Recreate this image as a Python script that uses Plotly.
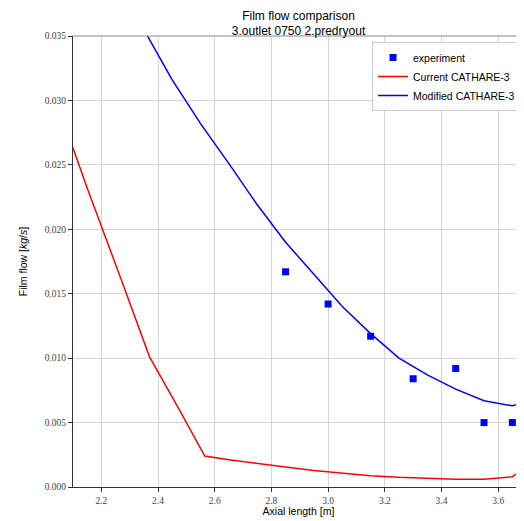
import plotly.graph_objects as go

# Experiment
exp_x = [2.85, 3.00, 3.15, 3.30, 3.45, 3.55, 3.65]
exp_y = [0.0167, 0.0142, 0.0117, 0.0084, 0.0092, 0.0050, 0.0050]

# Current CATHARE-3
cur_x = [2.05, 2.15, 2.27, 2.37, 2.47, 2.565, 2.65, 2.75, 2.85, 2.95, 3.05, 3.15, 3.25, 3.35, 3.45, 3.55, 3.65, 3.75]
cur_y = [0.0294, 0.0232, 0.0161, 0.0101, 0.0062, 0.0024, 0.00212, 0.00182, 0.00155, 0.00128,
         0.00106, 0.00088, 0.00075, 0.00066, 0.00061, 0.00060, 0.00080, 0.0024]

# Modified CATHARE-3
mod_x = [2.25, 2.35, 2.45, 2.55, 2.65, 2.75, 2.85, 2.95, 3.05, 3.15, 3.25, 3.35, 3.45, 3.55, 3.65, 3.75]
mod_y = [0.0400, 0.0355, 0.0316, 0.0282, 0.0251, 0.0219, 0.0190, 0.0165, 0.0140, 0.0119,
         0.0100, 0.0087, 0.0076, 0.0067, 0.0063, 0.0069]

x_range = [2.1, 3.691]
y_range = [0.0, 0.035]

fig = go.Figure()
fig.add_trace(go.Scatter(x=exp_x, y=exp_y, mode="markers", name="experiment",
                         marker=dict(symbol="square", size=7, color="#0000ff")))
fig.add_trace(go.Scatter(x=cur_x, y=cur_y, mode="lines", name="Current CATHARE-3",
                         line=dict(color="#ff0000", width=1.5)))
fig.add_trace(go.Scatter(x=mod_x, y=mod_y, mode="lines", name="Modified CATHARE-3",
                         line=dict(color="#0000ff", width=1.5)))

serif = "Liberation Serif"
sans = "Liberation Sans"

# page body has an 8px margin; compensate so the plot area sits where the reference has it
fig.update_layout(
    width=516, height=513, autosize=False,
    margin=dict(l=65, r=0, t=28, b=34),
    paper_bgcolor="white", plot_bgcolor="white",
    title=dict(text="Film flow comparison<br>3.outlet 0750 2.predryout",
               x=0.5, xref="paper", xanchor="center",
               y=0.977, yref="container", yanchor="top",
               font=dict(family=sans, size=12, color="#000")),
    showlegend=True,
    legend=dict(x=0.9934, xanchor="right", y=0.9867, yanchor="top",
                bgcolor="rgba(255,255,255,0.9)", bordercolor="#cccccc", borderwidth=1,
                font=dict(family=sans, size=10.5, color="#000"),
                tracegroupgap=0, itemwidth=30),
    xaxis=dict(range=x_range, tick0=2.2, dtick=0.2, tickformat=".1f",
               showgrid=True, gridcolor="#d6d6d6", gridwidth=1,
               zeroline=False, showline=True, linecolor="#333", linewidth=1.2,
               ticks="outside", ticklen=4, tickcolor="#333",
               tickfont=dict(family=serif, size=9.5, color="#444"),
               title=dict(text="Axial length [m]", standoff=2,
                          font=dict(family=sans, size=10.5, color="#000"))),
    yaxis=dict(range=y_range, tick0=0, dtick=0.005, tickformat=".3f",
               showgrid=True, gridcolor="#d6d6d6", gridwidth=1,
               zeroline=False, showline=True, linecolor="#333", linewidth=1.2,
               ticks="outside", ticklen=4, tickcolor="#333",
               tickfont=dict(family=serif, size=9.5, color="#444"),
               title=dict(text="Film flow [<i>kg</i>/<i>s</i>]", standoff=14,
                          font=dict(family=sans, size=10.5, color="#000"))),
    shapes=[dict(type="line", xref="paper", yref="paper", x0=0, x1=1, y0=1, y1=1,
                 line=dict(color="#888", width=1.2))],
)

fig.write_html("out.html")
